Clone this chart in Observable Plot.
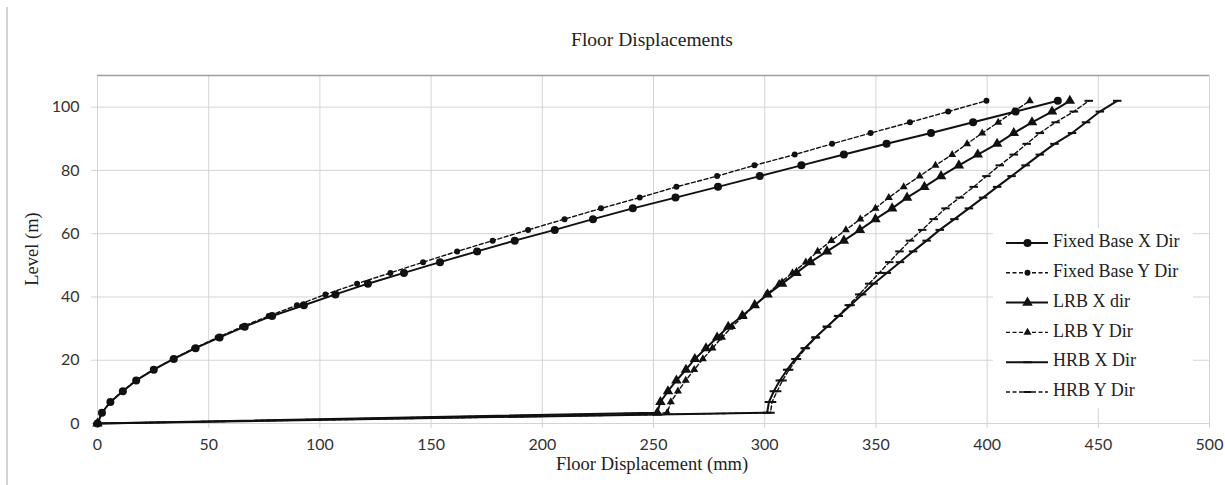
<!DOCTYPE html>
<html>
<head>
<meta charset="utf-8">
<script src="https://cdn.jsdelivr.net/npm/d3@7"></script>
<script src="https://cdn.jsdelivr.net/npm/@observablehq/plot@0.6"></script>
<style>
  body { margin: 0; background: #fff; }
  #wrap { position: relative; width: 1225px; height: 485px; overflow: hidden; background: #fff; }
  #wrap > svg { position: absolute; left: 0; top: 0; }
</style>
</head>
<body>
<div id="wrap"></div>
<script>
// ---- data ----
const levels = [0, 3.4, 6.8, 10.2, 13.6, 17, 20.4, 23.8, 27.2, 30.6, 34, 37.4, 40.8, 44.2, 47.6, 51,
  54.4, 57.8, 61.2, 64.6, 68, 71.4, 74.8, 78.2, 81.6, 85, 88.4, 91.8, 95.2, 98.6, 102];

const fixedBaseX = [0, 2, 5.8, 11.4, 17.4, 25.3, 34.3, 44.1, 54.9, 66.2, 78.5, 92.8, 107, 121.6, 137.8, 154,
  170.7, 187.6, 205.6, 222.8, 240.7, 259.9, 279, 297.8, 316.5, 335.6, 354.8, 374.8, 393.7, 412.8, 431.8];
const fixedBaseY = [0, 2, 5.7, 11.2, 17.2, 25, 33.8, 43.5, 54, 65, 77, 89.7, 102.5, 116.7, 131.7, 146.4,
  161.7, 177.7, 193.6, 210, 226.4, 243.8, 260.3, 278.6, 295.4, 313.5, 330.3, 347.6, 365.3, 382.5, 399.7];
const lrbX = [0, 251.7, 253.1, 256.5, 260.3, 264.6, 268.6, 273.6, 278.6, 283.6, 289.9, 295.5, 301.3, 307.8, 314.3, 320.6,
  328, 335.6, 342.8, 349.8, 357.3, 364, 371.8, 379.3, 387.3, 395.8, 404.5, 412, 420.2, 429.2, 437.2];
const lrbY = [0, 256.2, 257.8, 261, 264.5, 268.3, 272.2, 276.5, 280.8, 285.3, 290.5, 295.7, 300.8, 306.5, 312.5, 318.5,
  323.8, 330, 336.5, 343, 349.8, 355.8, 362.5, 369.7, 376.8, 384.3, 391, 397.8, 405, 412, 419.2];
const hrbX = [0, 301.1, 301.9, 304.1, 306.8, 310.1, 313.8, 318, 322.8, 328, 333.3, 338.6, 343.8, 349, 354.9, 360.8,
  366.7, 372.8, 378.7, 385.3, 391.8, 398.2, 404.5, 411, 417.3, 423.7, 430.3, 438.2, 444.5, 450.7, 458.5];
const hrbY = [0, 302.6, 303.3, 305.6, 308, 311, 314.5, 318.5, 323, 328, 333, 337.8, 342.5, 347, 351.5, 356,
  360.6, 365.3, 370.8, 376, 381.3, 387.7, 394, 399.7, 405.7, 412, 417.8, 423.7, 430.8, 439, 445.7];

const seriesNames = ["Fixed Base X Dir", "Fixed Base Y Dir", "LRB X dir", "LRB Y Dir", "HRB X Dir", "HRB Y Dir"];
const xTicks = [0, 50, 100, 150, 200, 250, 300, 350, 400, 450, 500];
const yTicks = [0, 20, 40, 60, 80, 100];

const titleText = "Floor Displacements";
const xLabel = "Floor Displacement (mm)";
const yLabel = "Level (m)";

// ---- styles per series ----
const dashSymbol = {
  draw(context, size) {
    const w = Math.sqrt(size) * 0.8;
    context.moveTo(-w, 0);
    context.lineTo(w, 0);
  }
};
const styles = [
  {values: fixedBaseX, dash: null, width: 2, symbol: "circle", r: 4, markStroke: false},
  {values: fixedBaseY, dash: "4,2.5", width: 1.4, symbol: "circle", r: 3, markStroke: false},
  {values: lrbX, dash: null, width: 2, symbol: "triangle", r: 3.9, markStroke: false},
  {values: lrbY, dash: "4,2.5", width: 1.4, symbol: "triangle", r: 3, markStroke: false},
  {values: hrbX, dash: null, width: 2, symbol: dashSymbol, r: 3, markStroke: true},
  {values: hrbY, dash: "4,2.5", width: 1.4, symbol: dashSymbol, r: 3, markStroke: true}
];

const rows = seriesNames.flatMap((name, si) =>
  levels.map((lv, i) => ({series: name, x: styles[si].values[i], y: lv})));

const marks = [
  Plot.gridX(xTicks, {stroke: "#d4d4d4", strokeOpacity: 1, strokeWidth: 1}),
  Plot.gridY(yTicks, {stroke: "#d4d4d4", strokeOpacity: 1, strokeWidth: 1}),
  Plot.ruleY([110], {stroke: "#9e9e9e", strokeWidth: 1.5}),
  Plot.axisX({ticks: xTicks, tickSize: 5, tickPadding: 10, stroke: "#d4d4d4", fill: "#333", label: null, tickFormat: d => String(d)}),
  Plot.axisY({ticks: yTicks, tickSize: 6, tickPadding: 12, stroke: "#d4d4d4", fill: "#333", label: null, tickFormat: d => String(d)})
];
seriesNames.forEach((name, si) => {
  const s = styles[si];
  const data = rows.filter(d => d.series === name);
  marks.push(Plot.line(data, {x: "x", y: "y", stroke: "#111", strokeWidth: s.width, strokeDasharray: s.dash, curve: "linear"}));
  if (s.markStroke) {
    marks.push(Plot.dot(data, {x: "x", y: "y", symbol: s.symbol, r: s.r, stroke: "#111", strokeWidth: 2, fill: "none"}));
  } else {
    marks.push(Plot.dot(data, {x: "x", y: "y", symbol: s.symbol, r: s.r, fill: "#111", stroke: "none"}));
  }
});

const chart = Plot.plot({
  width: 1225,
  height: 485,
  marginLeft: 97,
  marginRight: 16,
  marginTop: 75,
  marginBottom: 62,
  style: {fontFamily: "Lato, 'Open Sans', sans-serif", fontSize: "16px", background: "transparent", color: "#333"},
  x: {domain: [0, 500]},
  y: {domain: [0, 110]},
  marks
});
const wrap = document.getElementById("wrap");
wrap.appendChild(chart);

// ---- overlay: border, title, axis labels, legend ----
const ov = d3.select(wrap).append("svg")
  .attr("width", 1225).attr("height", 485)
  .style("font-family", "'Liberation Serif', 'Times New Roman', serif")
  .style("pointer-events", "none");

ov.append("line").attr("x1", 7).attr("x2", 7).attr("y1", 7).attr("y2", 485)
  .attr("stroke", "#c4c4c4").attr("stroke-width", 1.5);

ov.append("text").attr("x", 652).attr("y", 42).attr("text-anchor", "middle")
  .attr("dominant-baseline", "middle").attr("font-size", 19.5).attr("fill", "#222").text(titleText);
ov.append("text").attr("x", 652).attr("y", 466).attr("text-anchor", "middle")
  .attr("dominant-baseline", "middle").attr("font-size", 18.5).attr("fill", "#222").text(xLabel);
ov.append("text").attr("transform", "translate(34,249) rotate(-90)").attr("text-anchor", "middle")
  .attr("dominant-baseline", "middle").attr("font-size", 18.5).attr("fill", "#222").text(yLabel);

const lg = ov.append("g").attr("transform", "translate(993,228)");
lg.append("rect").attr("width", 200).attr("height", 180).attr("fill", "#fff");
seriesNames.forEach((name, si) => {
  const s = styles[si];
  const y = 15 + si * 29.8;
  const row = lg.append("g").attr("transform", `translate(0,${y})`);
  row.append("line").attr("x1", 13).attr("x2", 55).attr("y1", 0).attr("y2", 0)
    .attr("stroke", "#111").attr("stroke-width", s.width).attr("stroke-dasharray", s.dash);
  const sym = typeof s.symbol === "string" ? (s.symbol === "circle" ? d3.symbolCircle : d3.symbolTriangle) : s.symbol;
  const area = Math.PI * s.r * s.r;
  row.append("path").attr("transform", "translate(34.5,0)")
    .attr("d", d3.symbol(sym, area)())
    .attr("fill", s.markStroke ? "none" : "#111")
    .attr("stroke", s.markStroke ? "#111" : "none").attr("stroke-width", 2);
  row.append("text").attr("x", 60).attr("y", 0).attr("dominant-baseline", "middle")
    .attr("font-size", 18).attr("fill", "#222").text(name);
});
</script>
</body>
</html>
